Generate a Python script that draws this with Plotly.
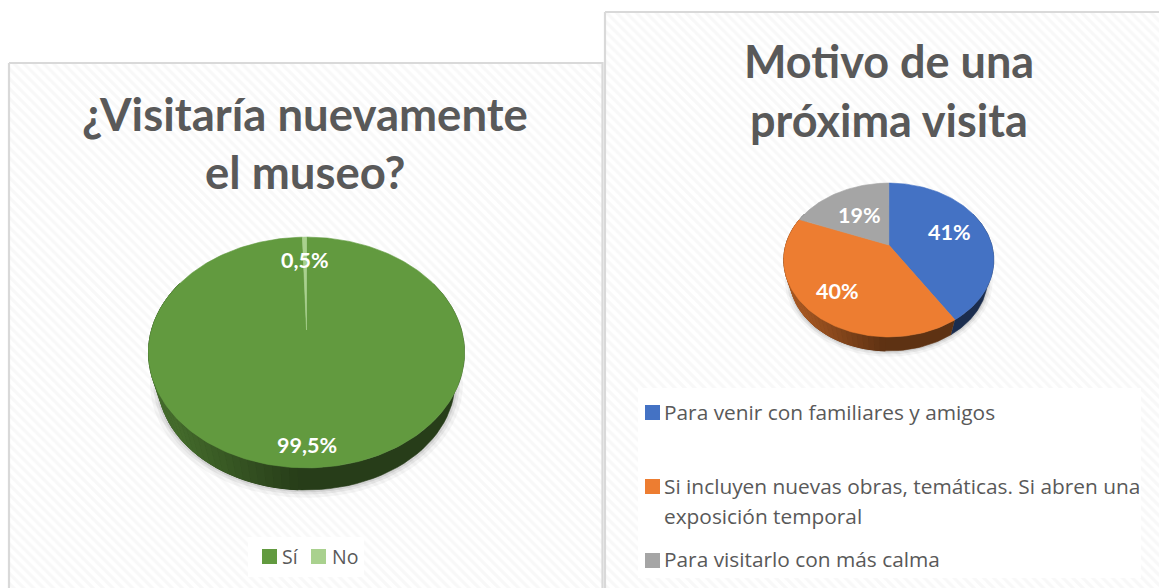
import numpy as np
import plotly.graph_objects as go

# ---------- data ----------
museum_title = ["¿Visitaría nuevamente", "el museo?"]
museum_categories = ["Sí", "No"]
museum_values = [99.5, 0.5]
museum_colors = ["#629a3f", "#a9d18e"]

reason_title = ["Motivo de una", "próxima visita"]
reason_categories = ["Para venir con familiares y amigos",
                     "Si incluyen nuevas obras, temáticas. Si abren una",
                     "Para visitarlo con más calma"]
reason_second_line = "exposición temporal"
reason_values = [41, 40, 19]
reason_colors = ["#4472c4", "#ed7d31", "#a5a5a5"]

TITLE_COLOR = "#595959"
LEGEND_COLOR = "#595959"
K = 0.195   # perspective of the tilted disc
SHRINK = 0.94  # the lower rim is a little smaller than the upper one

fig = go.Figure()


def project(theta, g):
    u, v = np.sin(theta), np.cos(theta)
    s = 1 / (1 + K * v)
    return g["cx"] + g["rx"] * u * s, g["cy"] - g["ry"] * v * s


def project_low(theta, g, grow=0.0):
    x, y = project(theta, g)
    f = SHRINK + grow
    return g["cx"] + (x - g["cx"]) * f, g["my"] + (y - g["my"]) * f + g["off"] + grow * 40


def shade(hex_color, f):
    r, g, b = [int(hex_color[i:i + 2], 16) for i in (1, 3, 5)]
    return f"rgb({int(r * f)},{int(g * f)},{int(b * f)})"


def poly(x, y, color, width=0.6):
    fig.add_trace(go.Scatter(x=list(x), y=list(y), mode="lines", fill="toself",
                             fillcolor=color, line=dict(color=color, width=width),
                             hoverinfo="skip", showlegend=False))


def panel(x0, x1, y0, y1):
    fig.add_trace(go.Scatter(
        x=[x0, x1, x1, x0, x0], y=[y0, y0, y1, y1, y0], mode="lines", fill="toself",
        line=dict(color="#d9d9d9", width=2.2),
        fillcolor="white",
        fillpattern=dict(shape="\\", size=7, solidity=0.45, fgcolor="#f1f1f1", bgcolor="white"),
        hoverinfo="skip", showlegend=False))


def pie3d(values, colors, g):
    edges = np.cumsum([0] + list(values)) / sum(values) * 2 * np.pi
    # soft shadow
    t = np.linspace(0, 2 * np.pi, 160)
    for grow, alpha in ((0.05, 0.04), (0.03, 0.06), (0.015, 0.08)):
        x, y = project_low(t, g, grow)
        poly(x, y, f"rgba(0,0,0,{alpha})", 0)
    # extruded side, lower half only, shaded from left to right
    for a0, a1, col in zip(edges[:-1], edges[1:], colors):
        lo, hi = max(a0, np.pi * 0.35), min(a1, np.pi * 1.65)
        if hi <= lo:
            continue
        tt = np.linspace(lo, hi, 80)
        x, y = project(tt, g)
        xl, yl = project_low(tt, g)
        poly(np.r_[x, xl[::-1]], np.r_[y, yl[::-1]], shade(col, 0.40))
        n = max(2, int((hi - lo) / (np.pi * 1.3) * 90))
        steps = np.linspace(lo, hi, n + 1)
        for s0, s1 in zip(steps[:-1], steps[1:]):
            tt = np.linspace(s0, s1, 4)
            x, y = project(tt, g)
            xl, yl = project_low(tt, g)
            pos = (x.mean() - g["cx"]) / (g["rx"] * 1.02)
            if pos > -0.05:
                continue
            f = 0.40 + 0.30 * min(1, (-pos - 0.05) / 0.8)
            poly(np.r_[x, xl[::-1]], np.r_[y, yl[::-1]], shade(col, f), 1)
    # top face
    for a0, a1, col in zip(edges[:-1], edges[1:], colors):
        tt = np.linspace(a0, a1, max(3, int((a1 - a0) / 0.02)))
        x, y = project(tt, g)
        poly(np.r_[g["cx"], x, g["cx"]], np.r_[g["cy"], y, g["cy"]], col)


def label(text, x, y, size, color, font, bold=False, anchor="center"):
    fig.add_annotation(x=x, y=y, xref="x", yref="y", text=f"<b>{text}</b>" if bold else text,
                       showarrow=False, xanchor=anchor, yanchor="middle",
                       font=dict(family=font, size=size, color=color))


def pct(v):
    return f"{v:g}".replace(".", ",") + "%"


def square(x, y, color):
    fig.add_shape(type="rect", x0=x, x1=x + 15, y0=y, y1=y + 15, fillcolor=color, line_width=0)


# ---------- panels ----------
panel(9, 602.5, 63, 610)
panel(605, 1175, 12, 610)

# ---------- pies ----------
left = dict(cx=306.5, cy=330, rx=155, ry=111, my=352, off=29)
right = dict(cx=888.8, cy=245, rx=103, ry=74, my=260, off=18.6)
pie3d(museum_values, museum_colors, left)
pie3d(reason_values, reason_colors, right)

# ---------- titles ----------
for line, y in zip(museum_title, (113.5, 171.5)):
    label(line, 305, y, 45.5, TITLE_COLOR, "Lato", True)
for line, y in zip(reason_title, (60.5, 119.5)):
    label(line, 888.5, y, 45, TITLE_COLOR, "Lato", True)

# ---------- data labels ----------
for v, (x, y) in zip(museum_values, ((307, 444.5), (305, 259.5))):
    label(pct(v), x, y, 21.5, "white", "Lato", True)
for v, (x, y) in zip(reason_values, ((949, 232), (837, 291), (859, 214.5))):
    label(pct(v), x, y, 21.5, "white", "Lato", True)

# ---------- legends ----------
fig.add_shape(type="rect", x0=248, x1=364, y0=537, y1=577, fillcolor="rgba(255,255,255,0.92)", line_width=0)
fig.add_shape(type="rect", x0=638, x1=1141, y0=388, y1=578, fillcolor="rgba(255,255,255,0.92)", line_width=0)

for c, col, xs, xt in zip(museum_categories, museum_colors, (262, 311), (279.5, 329.5)):
    square(xs, 549, col)
    label(c, xt, 556, 19.5, LEGEND_COLOR, "Open Sans", anchor="left")

for c, col, ys, yt in zip(reason_categories, reason_colors, (405, 479, 553), (411.5, 485.5, 558.5)):
    square(645, ys, col)
    label(c, 662, yt, 20.85, LEGEND_COLOR, "Open Sans", anchor="left")
label(reason_second_line, 662, 515.5, 20.85, LEGEND_COLOR, "Open Sans", anchor="left")

fig.update_layout(
    width=1159, height=588, margin=dict(l=0, r=0, t=0, b=0),
    paper_bgcolor="white", plot_bgcolor="white", showlegend=False,
    xaxis=dict(range=[0, 1159], visible=False, fixedrange=True),
    yaxis=dict(range=[588, 0], visible=False, fixedrange=True),
)
fig.write_html("out.html", config=dict(displayModeBar=False),
               post_script="document.body.style.margin='0';document.documentElement.style.overflow='hidden';")
